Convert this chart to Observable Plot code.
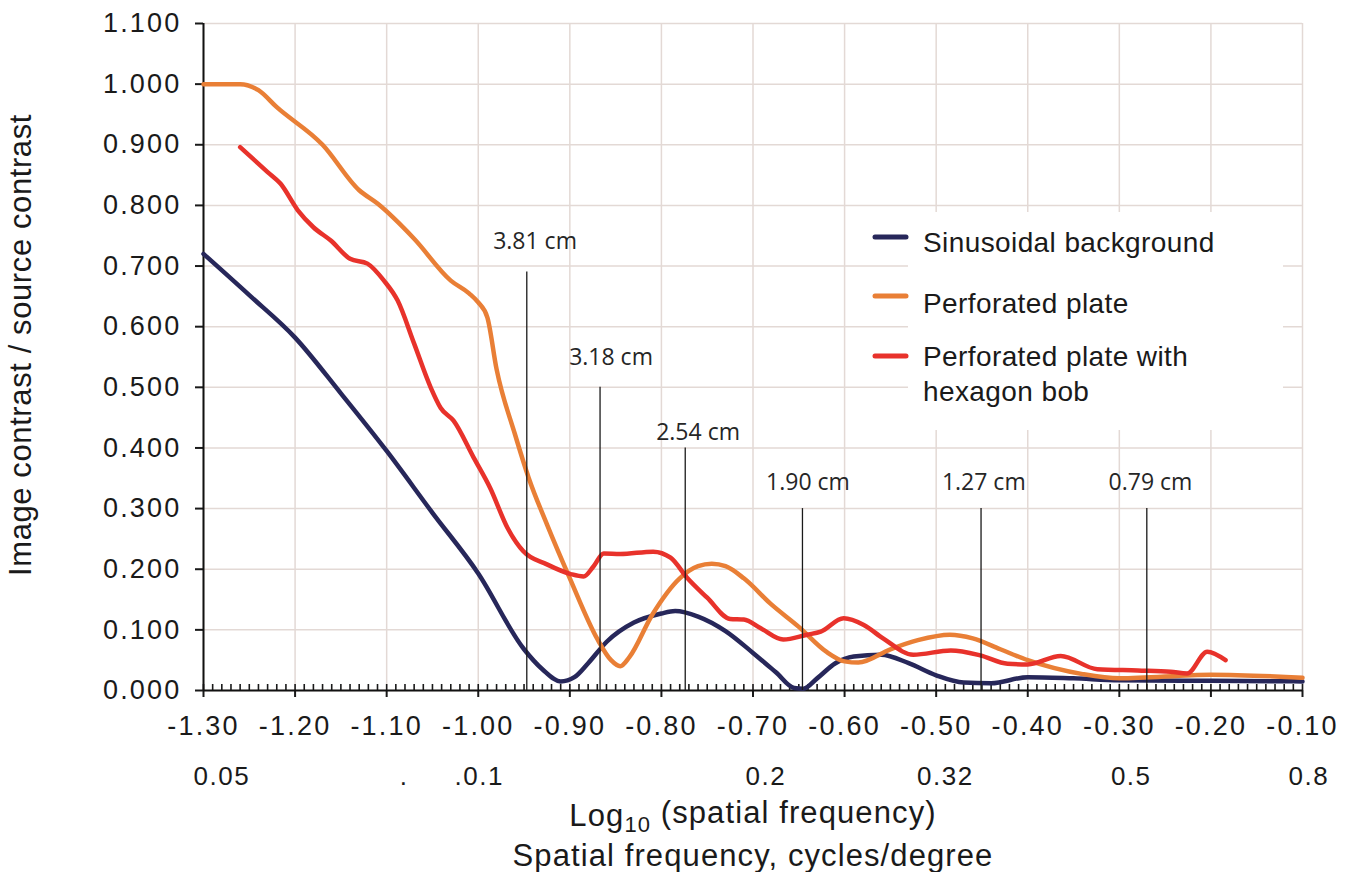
<!DOCTYPE html>
<html><head><meta charset="utf-8">
<script src="https://cdn.jsdelivr.net/npm/d3@7"></script>
<script src="https://cdn.jsdelivr.net/npm/@observablehq/plot@0.6"></script>
<style>
body{margin:0;background:#fff}
svg{display:block}
.ticklab text{letter-spacing:2.2px}
</style>
</head><body><div id="chart"></div>
<script>
// ---- data ----
const xTicks = [-1.3,-1.2,-1.1,-1.0,-0.9,-0.8,-0.7,-0.6,-0.5,-0.4,-0.3,-0.2,-0.1];
const yTicks = [0,0.1,0.2,0.3,0.4,0.5,0.6,0.7,0.8,0.9,1.0,1.1];

const seriesNames = ["Sinusoidal background","Perforated plate","Perforated plate with hexagon bob"];
const seriesColors = ["#27275a","#e97f36","#e8322b"];

const navyX = [-1.30,-1.25,-1.20,-1.15,-1.10,-1.05,-1.00,-0.95,-0.93,-0.91,-0.895,-0.88,-0.86,-0.83,-0.80,-0.785,-0.76,-0.73,-0.70,-0.675,-0.655,-0.645,-0.63,-0.61,-0.59,-0.56,-0.53,-0.50,-0.47,-0.44,-0.40,-0.35,-0.30,-0.20,-0.10];
const navyY = [0.720,0.652,0.582,0.490,0.395,0.293,0.193,0.068,0.035,0.015,0.022,0.045,0.080,0.112,0.127,0.131,0.122,0.098,0.062,0.030,0.004,0.003,0.020,0.045,0.056,0.059,0.045,0.025,0.013,0.012,0.022,0.020,0.017,0.016,0.015];

const orangeX = [-1.30,-1.26,-1.24,-1.22,-1.17,-1.13,-1.11,-1.07,-1.03,-1.01,-1.00,-0.99,-0.98,-0.96,-0.945,-0.925,-0.90,-0.87,-0.855,-0.845,-0.835,-0.81,-0.78,-0.76,-0.745,-0.73,-0.71,-0.68,-0.65,-0.62,-0.60,-0.585,-0.55,-0.52,-0.485,-0.46,-0.43,-0.40,-0.34,-0.30,-0.20,-0.10];
const orangeY = [1.000,1.000,0.990,0.962,0.900,0.825,0.803,0.745,0.676,0.655,0.640,0.615,0.530,0.423,0.351,0.274,0.185,0.085,0.050,0.040,0.055,0.125,0.185,0.205,0.209,0.205,0.185,0.142,0.105,0.064,0.048,0.046,0.068,0.083,0.092,0.086,0.068,0.050,0.027,0.020,0.026,0.021];

const redX = [-1.26,-1.23,-1.216,-1.197,-1.18,-1.161,-1.14,-1.121,-1.103,-1.088,-1.07,-1.052,-1.041,-1.027,-1.005,-0.987,-0.968,-0.951,-0.925,-0.899,-0.885,-0.874,-0.863,-0.845,-0.809,-0.79,-0.772,-0.75,-0.725,-0.71,-0.692,-0.667,-0.641,-0.626,-0.601,-0.579,-0.558,-0.525,-0.484,-0.452,-0.422,-0.40,-0.364,-0.324,-0.28,-0.244,-0.226,-0.204,-0.184];
const redY = [0.896,0.855,0.836,0.792,0.764,0.742,0.712,0.704,0.676,0.643,0.572,0.500,0.466,0.445,0.384,0.334,0.268,0.230,0.208,0.192,0.188,0.205,0.226,0.225,0.229,0.219,0.186,0.153,0.118,0.117,0.103,0.084,0.092,0.097,0.119,0.108,0.086,0.059,0.066,0.058,0.044,0.043,0.057,0.035,0.033,0.031,0.028,0.064,0.050];

// annotation lines (hole sizes)
const annLabel = ["3.81 cm","3.18 cm","2.54 cm","1.90 cm","1.27 cm","0.79 cm"];
const annX     = [-0.947,-0.867,-0.774,-0.646,-0.451,-0.270];
const annTop   = [0.69,0.50,0.40,0.30,0.30,0.30];
const annLabX  = [-0.938,-0.855,-0.760,-0.640,-0.448,-0.266];
const annLabY  = [0.740,0.549,0.425,0.342,0.342,0.342];

// secondary frequency labels
const freqLabel = ["0.05",".",".0.1","0.2","0.32","0.5","0.8"];
const freqX     = [-1.280,-1.081,-0.999,-0.686,-0.490,-0.287,-0.093];

const minorTicks = d3.range(0, 121).map(i => -1.3 + i * 0.01);

// ---- build tables ----
const toRows = (xs, ys, s) => xs.map((x, i) => ({x, y: ys[i], s}));
const rows = [
  ...toRows(navyX, navyY, seriesNames[0]),
  ...toRows(orangeX, orangeY, seriesNames[1]),
  ...toRows(redX, redY, seriesNames[2])
];
const ann = annLabel.map((l, i) => ({label: l, x: annX[i], top: annTop[i], lx: annLabX[i], ly: annLabY[i]}));
const freq = freqLabel.map((l, i) => ({label: l, x: freqX[i]}));

const FONT = "'Liberation Sans', Arial, sans-serif";
const gridColor = "#e3d9d5";

const chart = Plot.plot({
  width: 1350, height: 872,
  marginLeft: 203, marginRight: 48, marginTop: 23, marginBottom: 182,
  style: {background: "#fff", fontFamily: FONT, color: "#1a1a1a"},
  x: {domain: [-1.3, -0.1]},
  y: {domain: [0, 1.1]},
  color: {domain: seriesNames, range: seriesColors},
  marks: [
    Plot.gridX(xTicks, {stroke: gridColor, strokeOpacity: 1, strokeWidth: 1.5}),
    Plot.gridY(yTicks, {stroke: gridColor, strokeOpacity: 1, strokeWidth: 1.5}),
    Plot.axisY({ticks: yTicks, tickSize: 8, tickPadding: 14, tickFormat: d => d.toFixed(3), fontSize: 27, label: null, strokeWidth: 2, className: "ticklab"}),
    Plot.axisX({ticks: xTicks, tickSize: 7, tickPadding: 18, tickFormat: d => d.toFixed(2), fontSize: 27, label: null, strokeWidth: 2, className: "ticklab"}),
    Plot.axisX({ticks: minorTicks, tickSize: 6, dy: -6, tickFormat: () => "", label: null, strokeWidth: 1.6}),
    Plot.ruleY([0], {stroke: "#111", strokeWidth: 2}),
    Plot.ruleX([-1.3], {stroke: "#111", strokeWidth: 2}),
    Plot.line(rows, {x: "x", y: "y", z: "s", stroke: "s", strokeWidth: 4.5, curve: "monotone-x"}),
    Plot.ruleX(ann, {x: "x", y1: 0, y2: "top", stroke: "#1a1a1a", strokeWidth: 1.3}),
    Plot.text(ann, {x: "lx", y: "ly", text: "label", fontFamily: "'Open Sans', sans-serif", fontSize: 23, fill: "#262626", lineAnchor: "middle"}),
    Plot.text(freq, {x: "x", text: "label", frameAnchor: "bottom", dy: 86, lineAnchor: "middle", fontSize: 26, fill: "#1a1a1a", className: "freqlab"}),
    Plot.text(["Log10 (spatial frequency)"], {text: d => d, frameAnchor: "bottom", dy: 135, lineAnchor: "bottom", fontSize: 31, fill: "#1a1a1a", className: "xt1"}),
    Plot.text(["Spatial frequency, cycles/degree"], {text: d => d, frameAnchor: "bottom", dy: 175, lineAnchor: "bottom", fontSize: 31, fill: "#1a1a1a", className: "xt2"}),
    Plot.text(["Image contrast / source contrast"], {text: d => d, frameAnchor: "left", textAnchor: "middle", dx: -173, dy: -12, rotate: -90, lineAnchor: "bottom", fontSize: 31, fill: "#1a1a1a", className: "yt"})
  ]
});

document.getElementById("chart").appendChild(chart);

// ---- post-process text styling ----
const svg = d3.select(chart);
svg.selectAll(".freqlab text").attr("letter-spacing", 1.5);
svg.selectAll(".xt2 text").attr("letter-spacing", 1.1);
svg.selectAll(".yt text").attr("letter-spacing", 0.6);
svg.selectAll(".xt1 text").each(function() {
  const t = d3.select(this);
  t.text(null).attr("letter-spacing", 1.1);
  t.append("tspan").text("Log");
  t.append("tspan").attr("font-size", 22).attr("dy", "0.3em").text("10");
  t.append("tspan").attr("dy", "-0.3em").text(" (spatial frequency)");
});

// ---- legend ----
const legendBox = {x: 908, y: 212, w: 375, h: 218};
const legendRows = [
  {lineY: 237, lines: [{t: "Sinusoidal background", y: 252}]},
  {lineY: 296, lines: [{t: "Perforated plate", y: 313}]},
  {lineY: 356, lines: [{t: "Perforated plate with", y: 366}, {t: "hexagon bob", y: 401}]}
];
const lg = svg.append("g").attr("font-family", FONT).attr("font-size", 28).attr("fill", "#1a1a1a").attr("text-anchor", "start");
lg.append("rect").attr("x", legendBox.x).attr("y", legendBox.y).attr("width", legendBox.w).attr("height", legendBox.h).attr("fill", "#fff");
legendRows.forEach((r, i) => {
  lg.append("line").attr("x1", 875).attr("x2", 906).attr("y1", r.lineY).attr("y2", r.lineY)
    .attr("stroke", seriesColors[i]).attr("stroke-width", 5).attr("stroke-linecap", "round");
  r.lines.forEach(l => lg.append("text").attr("x", 923).attr("y", l.y).attr("letter-spacing", 0.4).text(l.t));
});
</script>
</body></html>
